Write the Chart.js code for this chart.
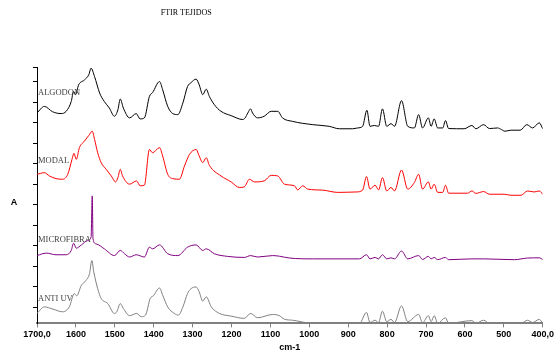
<!DOCTYPE html>
<html lang="es">
<head>
    <meta charset="UTF-8">
    <title>FTIR TEJIDOS</title>
    <script src="https://cdn.jsdelivr.net/npm/chart.js"></script>
    <style>
        html, body { margin: 0; padding: 0; background: #fff; }
        .chart-container { width: 556px; height: 354px; }
    </style>
</head>
<body>
    <div class="chart-container">
        <canvas id="ftirChart"></canvas>
    </div>

    <script>
        // wavenumbers (cm-1) and absorbance, one pair per fabric
        const algodonWn = [1700,1681,1660,1638,1625,1612,1606,1601,1593,1578,1567,1561,1552,1539,1527,1514,1501,1492,1486,1478,1462,1445,1435,1424,1411,1403,1385,1377,1364,1351,1338,1325,1313,1304,1291,1283,1274,1265,1257,1244,1227,1201,1171,1165,1158,1151,1146,1133,1116,1098,1081,1069,1043,991,949,923,889,876,863,852,844,833,822,812,801,790,781,763,747,730,719,709,694,687,679,670,657,650,642,602,582,572,552,537,516,506,497,482,458,441,426,409,400];
        const algodonAbs = [9.48,9.80,9.54,9.45,9.56,10.04,10.53,10.37,10.85,11.09,11.34,11.66,11.25,10.45,10.04,9.72,9.32,9.64,10.16,9.72,9.24,9.45,9.19,9.24,10.29,10.47,11.01,10.61,9.80,9.45,9.40,9.97,10.77,10.96,11.13,10.85,10.37,10.64,10.29,9.88,9.56,9.35,9.16,9.24,9.48,9.68,9.48,9.24,9.32,9.56,9.56,9.24,9.07,8.91,8.83,8.71,8.71,8.75,8.83,9.61,8.83,8.87,8.83,9.68,8.83,8.96,8.83,10.08,8.83,8.75,9.40,8.75,9.24,8.83,9.19,8.75,8.75,9.11,8.72,8.71,8.87,8.71,8.91,8.72,8.75,8.67,8.59,8.64,8.64,8.91,8.75,9.00,8.71];

        const modalWn = [1700,1681,1668,1651,1634,1621,1610,1605,1599,1591,1578,1567,1558,1552,1544,1535,1522,1509,1498,1492,1486,1480,1462,1444,1435,1424,1411,1403,1385,1377,1364,1351,1334,1321,1308,1291,1283,1274,1265,1257,1227,1201,1180,1167,1154,1141,1116,1098,1081,1064,1038,1030,1017,1004,966,927,880,863,853,844,831,822,812,801,790,781,763,747,730,719,709,694,687,679,670,657,650,642,593,582,572,552,537,499,482,456,439,422,409,400];
        const modalAbs = [6.49,6.57,6.41,6.28,6.25,6.49,7.22,7.51,7.22,7.79,8.11,8.38,8.59,8.19,7.54,7.06,6.73,6.41,6.12,6.33,6.73,6.41,6.01,6.17,5.93,5.96,7.70,7.54,7.79,7.38,6.49,6.28,6.25,6.89,7.46,7.70,7.38,7.06,7.30,6.93,6.41,6.12,5.85,5.88,6.25,6.12,6.17,6.44,6.41,6.01,5.93,5.73,5.93,5.77,5.72,5.61,5.63,5.72,6.38,5.77,5.96,5.73,6.33,5.68,5.85,5.68,6.70,5.77,6.09,6.49,5.77,6.12,5.77,6.01,5.61,5.61,5.96,5.57,5.57,5.68,5.56,5.65,5.52,5.52,5.47,5.47,5.68,5.63,5.68,5.52];

        const microWn = [1700,1676,1651,1625,1612,1606,1599,1586,1570,1561,1558,1556,1548,1527,1501,1486,1475,1462,1445,1424,1411,1403,1385,1364,1338,1313,1291,1274,1265,1244,1210,1167,1151,1133,1094,1077,1051,991,871,853,844,831,822,812,801,790,781,763,747,719,709,694,687,679,670,650,642,582,552,473,439,409,400];
        const microAbs = [2.53,2.65,2.57,2.57,2.78,3.13,2.89,3.05,3.26,3.43,5.44,3.34,3.10,2.86,2.53,2.78,2.62,2.46,2.57,2.46,2.94,2.86,3.05,2.62,2.53,2.94,3.05,2.78,2.86,2.62,2.49,2.44,2.53,2.46,2.53,2.50,2.41,2.37,2.37,2.57,2.37,2.44,2.37,2.57,2.37,2.42,2.37,2.75,2.37,2.53,2.34,2.49,2.37,2.44,2.33,2.44,2.33,2.37,2.37,2.33,2.41,2.42,2.34];

        const antiuvWn = [1700,1681,1659,1634,1617,1604,1598,1586,1574,1565,1559,1554,1544,1535,1518,1501,1495,1486,1478,1462,1444,1432,1421,1409,1401,1385,1377,1364,1347,1336,1325,1313,1304,1291,1283,1274,1265,1252,1231,1201,1167,1151,1133,1094,1077,1064,1043,991,871,853,844,831,822,812,801,790,781,763,747,719,709,694,687,679,670,650,642,582,572,552,537,456,439,426,409,400];
        const antiuvAbs = [-0.29,0.03,-0.08,-0.21,0.03,0.68,0.57,1.08,1.32,1.65,2.29,1.73,0.92,0.44,0.19,-0.29,-0.21,0.19,-0.05,-0.40,-0.29,-0.45,-0.37,0.44,0.57,0.95,0.60,0.03,-0.29,-0.37,0.03,0.68,0.92,1.00,0.76,0.31,0.52,0.03,-0.29,-0.42,-0.53,-0.29,-0.50,-0.34,-0.40,-0.57,-0.62,-0.77,-0.77,-0.24,-0.73,-0.62,-0.73,-0.18,-0.69,-0.58,-0.73,0.08,-0.69,-0.34,-0.74,-0.40,-0.69,-0.40,-0.77,-0.50,-0.77,-0.64,-0.77,-0.62,-0.77,-0.77,-0.62,-0.73,-0.58,-0.77];

        const seriesNames = ['ALGODON', 'MODAL', 'MICROFIBRA', 'ANTI UV'];
        const xTicks = [1700,1600,1500,1400,1300,1200,1100,1000,900,800,700,600,500,400];
        const yTicks = [0,1,2,3,4,5,6,7,8,9,10,11];

        function toPoints(wn, abs) {
            return wn.map((w, i) => ({ x: w, y: abs[i] }));
        }

        const series = [
            { wn: algodonWn, abs: algodonAbs, color: '#000000' },
            { wn: modalWn, abs: modalAbs, color: '#ff0000' },
            { wn: microWn, abs: microAbs, color: '#800080' },
            { wn: antiuvWn, abs: antiuvAbs, color: '#808080' }
        ];

        // label height of each trace name, in absorbance units
        const nameLevels = [10.47, 7.15, 3.32, 0.41];

        const textPlugin = {
            id: 'ftirText',
            afterDraw(chart) {
                const ctx = chart.ctx;
                const area = chart.chartArea;
                const y = chart.scales.y;
                ctx.save();
                // title
                ctx.fillStyle = '#000';
                ctx.font = '8px "Liberation Serif"';
                ctx.textAlign = 'center';
                ctx.textBaseline = 'middle';
                ctx.fillText('FTIR TEJIDOS', area.left + (area.right - area.left) * 0.295, 13);

                // y axis label, upright
                ctx.font = 'bold 9px "Liberation Sans"';
                ctx.fillText('A', area.left - 23, area.top + (area.bottom - area.top) * 0.53);

                // trace names
                ctx.font = '8.5px "Liberation Serif"';
                ctx.fillStyle = '#444';
                ctx.textAlign = 'left';
                seriesNames.forEach((name, i) => {
                    ctx.fillText(name, area.left + 1, y.getPixelForValue(nameLevels[i]));
                });
                ctx.restore();
            }
        };

        const ctxFtir = document.getElementById('ftirChart').getContext('2d');
        const ftirChart = new Chart(ctxFtir, {
            type: 'line',
            data: {
                datasets: series.map((s, i) => ({
                    label: seriesNames[i],
                    data: toPoints(s.wn, s.abs),
                    borderColor: s.color,
                    borderWidth: 1,
                    pointRadius: 0,
                    fill: false,
                    cubicInterpolationMode: 'monotone'
                }))
            },
            options: {
                responsive: true,
                maintainAspectRatio: false,
                animation: false,
                layout: {
                    padding: { left: 33, right: 13, top: 67, bottom: 1 }
                },
                plugins: {
                    legend: { display: false },
                    tooltip: { enabled: false }
                },
                scales: {
                    x: {
                        type: 'linear',
                        reverse: true,
                        min: 400,
                        max: 1700,
                        afterBuildTicks: axis => { axis.ticks = xTicks.map(v => ({ value: v })); },
                        grid: {
                            drawOnChartArea: false,
                            drawTicks: true,
                            tickLength: 4,
                            color: '#808080'
                        },
                        border: { color: '#808080', width: 2 },
                        ticks: {
                            autoSkip: false,
                            maxRotation: 0,
                            padding: 2,
                            color: '#000',
                            font: { family: 'Liberation Sans', size: 9, weight: 'bold' },
                            callback: v => (v === 1700 || v === 400) ? v + ',0' : String(v)
                        },
                        title: {
                            display: true,
                            text: 'cm-1',
                            color: '#000',
                            padding: { top: 0, bottom: 0 },
                            font: { family: 'Liberation Sans', size: 9, weight: 'bold' }
                        }
                    },
                    y: {
                        type: 'linear',
                        min: -0.775,
                        max: 11.72,
                        afterBuildTicks: axis => { axis.ticks = yTicks.concat([11.72]).map(v => ({ value: v })); },
                        grid: {
                            drawOnChartArea: false,
                            drawTicks: true,
                            tickLength: 4,
                            color: '#000'
                        },
                        border: { color: '#000', width: 1 },
                        ticks: { display: false }
                    }
                }
            },
            plugins: [textPlugin]
        });
    </script>
</body>
</html>
